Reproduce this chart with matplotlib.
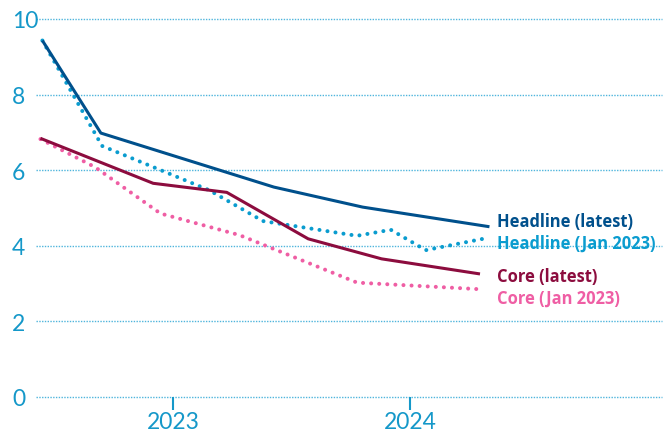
import matplotlib
matplotlib.use("Agg")
import matplotlib.pyplot as plt

plt.rcParams['font.family'] = ['Lato', 'DejaVu Sans']

# series (decimal years, per cent)
headline_latest_x = [2022.447, 2022.694, 2023.425, 2023.800, 2024.336]
headline_latest_y = [9.43, 6.98, 5.55, 5.02, 4.50]

headline_jan23_x = [2022.447, 2022.699, 2023.151, 2023.379, 2023.776, 2023.919, 2024.067, 2024.333]
headline_jan23_y = [9.43, 6.64, 5.47, 4.65, 4.26, 4.42, 3.88, 4.21]

core_latest_x = [2022.439, 2022.915, 2023.226, 2023.570, 2023.880, 2024.296]
core_latest_y = [6.84, 5.65, 5.41, 4.18, 3.65, 3.25]

core_jan23_x = [2022.439, 2022.669, 2022.946, 2023.279, 2023.777, 2024.283]
core_jan23_y = [6.82, 6.08, 4.85, 4.28, 3.02, 2.85]

series = [
    ("Headline (latest)", headline_latest_x, headline_latest_y, '#00508c', 'solid', 4.65),
    ("Headline (Jan 2023)", headline_jan23_x, headline_jan23_y, '#0a9ccf', 'dotted', 4.07),
    ("Core (latest)", core_latest_x, core_latest_y, '#8c0c3e', 'solid', 3.19),
    ("Core (Jan 2023)", core_jan23_x, core_jan23_y, '#ef5ea4', 'dotted', 2.61),
]

year_ticks = [2023, 2024]
y_ticks = [0, 2, 4, 6, 8, 10]
label_x = 2024.368

fig = plt.figure(figsize=(6.69, 4.35), dpi=100)
ax = fig.add_axes([36 / 669, 37.3 / 435, 626 / 669, 377.7 / 435])
ax.set_xlim(2022.420, 2025.065)
ax.set_ylim(0, 10)

grid_col = '#4fb5dc'
for v in y_ticks:
    ax.axhline(v, color=grid_col, lw=1.0, ls=(0, (1, 1)), zorder=1, clip_on=False)

for name, xs, ys, col, style, ly in series:
    if style == 'solid':
        ax.plot(xs, ys, color=col, lw=2.2, solid_capstyle='butt', zorder=3, clip_on=False)
    else:
        ax.plot(xs, ys, color=col, lw=2.9, ls=(0, (0.01, 2.0)),
                dash_capstyle='round', zorder=2, clip_on=False)
    ax.text(label_x, ly, name, color=col, fontsize=11.9, fontweight='bold',
            family=['Open Sans', 'DejaVu Sans'], va='center', ha='left', zorder=4)

for s in ax.spines.values():
    s.set_visible(False)

tick_col = '#1598c9'
ax.set_yticks(y_ticks)
ax.set_yticklabels([str(v) for v in y_ticks], ha='left')
ax.set_xticks(year_ticks)
ax.set_xticklabels([str(v) for v in year_ticks])
ax.tick_params(axis='y', length=0, pad=17.3, labelsize=16.5, labelcolor=tick_col)
ax.tick_params(axis='x', length=9, width=1.5, color=tick_col, pad=1,
               labelsize=16.5, labelcolor=tick_col)

fig.savefig('out.png', dpi=100)
